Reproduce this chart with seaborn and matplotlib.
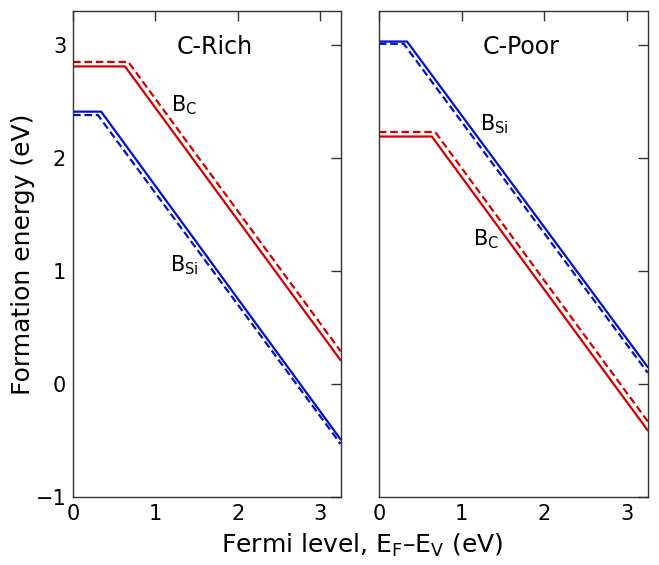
import matplotlib
matplotlib.use("Agg")
import matplotlib.pyplot as plt
import seaborn as sns
import pandas as pd

sns.set_theme(style="white")
plt.rcParams['font.family'] = ['DejaVu Sans']
plt.rcParams['text.color'] = 'black'
plt.rcParams['axes.labelcolor'] = 'black'
plt.rcParams['xtick.color'] = 'black'
plt.rcParams['ytick.color'] = 'black'

# Data (x: Fermi level, y: formation energy)
rich_BC_solid_x = [0.0, 0.63, 3.25]
rich_BC_solid_y = [2.81, 2.81, 0.21]
rich_BC_dash_x = [0.0, 0.67, 3.25]
rich_BC_dash_y = [2.85, 2.85, 0.29]
rich_BSi_solid_x = [0.0, 0.34, 3.25]
rich_BSi_solid_y = [2.41, 2.41, -0.49]
rich_BSi_dash_x = [0.0, 0.30, 3.25]
rich_BSi_dash_y = [2.38, 2.38, -0.53]

poor_BSi_solid_x = [0.0, 0.34, 3.25]
poor_BSi_solid_y = [3.03, 3.03, 0.15]
poor_BSi_dash_x = [0.0, 0.30, 3.25]
poor_BSi_dash_y = [3.01, 3.01, 0.10]
poor_BC_solid_x = [0.0, 0.64, 3.25]
poor_BC_solid_y = [2.19, 2.19, -0.41]
poor_BC_dash_x = [0.0, 0.68, 3.25]
poor_BC_dash_y = [2.23, 2.23, -0.33]

panel_titles = ["C-Rich", "C-Poor"]
yticks = [-1, 0, 1, 2, 3]
xticks = [0, 1, 2, 3]

RED = "#d40000"
BLUE = "#0010cc"

def frame(panel, x, y, species, style):
    return pd.DataFrame({"x": x, "y": y, "panel": panel, "species": species, "style": style})

df = pd.concat([
    frame("C-Rich", rich_BC_solid_x, rich_BC_solid_y, "BC", "solid"),
    frame("C-Rich", rich_BC_dash_x, rich_BC_dash_y, "BC", "dash"),
    frame("C-Rich", rich_BSi_solid_x, rich_BSi_solid_y, "BSi", "solid"),
    frame("C-Rich", rich_BSi_dash_x, rich_BSi_dash_y, "BSi", "dash"),
    frame("C-Poor", poor_BSi_solid_x, poor_BSi_solid_y, "BSi", "solid"),
    frame("C-Poor", poor_BSi_dash_x, poor_BSi_dash_y, "BSi", "dash"),
    frame("C-Poor", poor_BC_solid_x, poor_BC_solid_y, "BC", "solid"),
    frame("C-Poor", poor_BC_dash_x, poor_BC_dash_y, "BC", "dash"),
], ignore_index=True)

fig = plt.figure(figsize=(6.59, 5.65), dpi=100)
ax1 = fig.add_axes([0.111, 0.12, 0.406, 0.8605])
ax2 = fig.add_axes([0.575, 0.12, 0.408, 0.8605], sharey=ax1)

for ax, title in zip([ax1, ax2], panel_titles):
    sub = df[df.panel == title]
    sns.lineplot(data=sub, x="x", y="y", hue="species", style="style",
                 palette={"BC": RED, "BSi": BLUE},
                 dashes={"solid": "", "dash": (3.4, 1.7)},
                 sort=False, estimator=None, linewidth=1.6, legend=False, ax=ax)
    ax.set_xlim(0, 3.25)
    ax.set_ylim(-1, 3.3)
    ax.set_xticks(xticks)
    ax.set_yticks(yticks)
    ax.set_xlabel("")
    ax.set_ylabel("")
    ax.tick_params(direction="in", length=7, width=1, top=True, right=True,
                   labelsize=15, color="#333333", pad=5)
    for s in ax.spines.values():
        s.set_color("#333333")
        s.set_linewidth(1.0)
    ax.text(0.53, 0.925, title, transform=ax.transAxes, ha="center", va="center", fontsize=17)

ax1.set_yticklabels(["\u22121", "0", "1", "2", "3"])
ax2.tick_params(labelleft=False)

ax1.text(1.35, 2.47, r"B$_\mathregular{C}$", ha="center", va="center", fontsize=15)
ax1.text(1.35, 1.05, r"B$_\mathregular{Si}$", ha="center", va="center", fontsize=15)
ax2.text(1.4, 2.3, r"B$_\mathregular{Si}$", ha="center", va="center", fontsize=15)
ax2.text(1.3, 1.28, r"B$_\mathregular{C}$", ha="center", va="center", fontsize=15)

fig.text(0.035, 0.55, "Formation energy (eV)", rotation=90, ha="center", va="center", fontsize=18)
fig.text(0.55, 0.035, r"Fermi level, E$_\mathregular{F}$–E$_\mathregular{V}$ (eV)", ha="center", va="center", fontsize=18)

fig.savefig("out.png", dpi=100)
